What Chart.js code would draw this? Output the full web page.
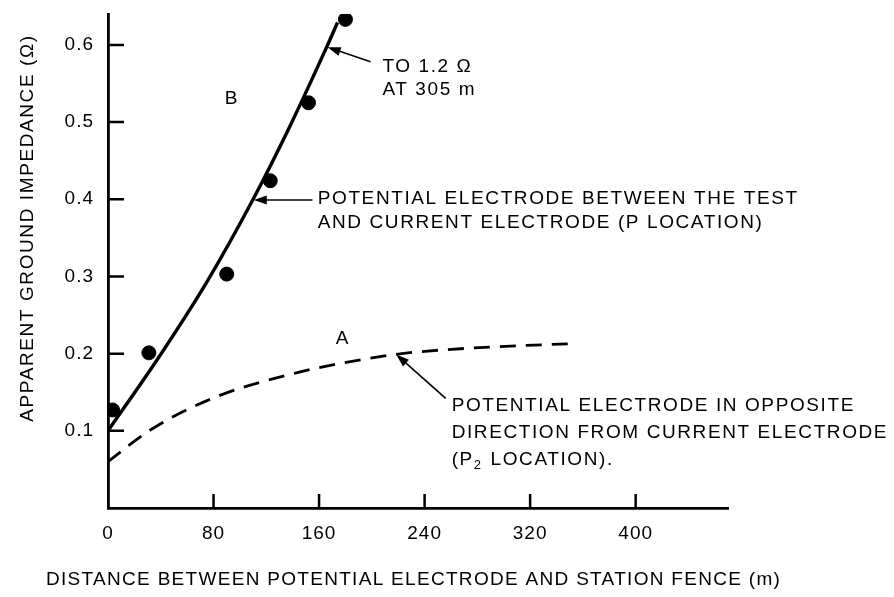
<!DOCTYPE html>
<html>
<head>
<meta charset="utf-8">
<script src="https://cdn.jsdelivr.net/npm/chart.js@4.4.1/dist/chart.umd.min.js"></script>
<style>
  html, body { margin: 0; padding: 0; background: #fff; }
</style>
</head>
<body>
<canvas id="chart" width="894" height="597"></canvas>
<script>
// Measured points (distance in m, apparent impedance in ohm)
const pointX = [3.5, 31, 90, 123, 152, 180];
const pointY = [0.127, 0.201, 0.303, 0.424, 0.525, 0.633];

// Curve B - potential electrode between test and current electrode
const curveBX = [0, 38, 75, 110, 138, 166, 174];
const curveBY = [0.100, 0.194, 0.293, 0.400, 0.495, 0.598, 0.629];

// Curve A - potential electrode in opposite direction (P2)
const curveAX = [0, 32, 82, 145, 175, 218, 240, 295, 354];
const curveAY = [0.060, 0.101, 0.144, 0.176, 0.187, 0.199, 0.203, 0.209, 0.213];

// Tick labels
const xTicks = [0, 80, 160, 240, 320, 400];
const yTicks = [0.1, 0.2, 0.3, 0.4, 0.5, 0.6];

const FONT = "'Liberation Sans', Arial, Helvetica, sans-serif";
const INK = '#000';

function toXY(xs, ys) {
    return xs.map((x, i) => ({ x: x, y: ys[i] }));
}

// Inward tick marks, the way the original axes are drawn
const inwardTicks = {
    id: 'inwardTicks',
    afterDatasetsDraw(chart) {
        const ctx = chart.ctx;
        const xs = chart.scales.x;
        const ys = chart.scales.y;
        const area = chart.chartArea;
        ctx.save();
        ctx.strokeStyle = INK;
        ctx.lineWidth = 2.5;
        ctx.beginPath();
        yTicks.forEach(v => {
            const p = ys.getPixelForValue(v);
            ctx.moveTo(area.left, p);
            ctx.lineTo(area.left + 16, p);
        });
        xTicks.forEach(v => {
            if (v === 0) return;
            const p = xs.getPixelForValue(v);
            ctx.moveTo(p, area.bottom);
            ctx.lineTo(p, area.bottom - 14);
        });
        ctx.stroke();
        ctx.restore();
    }
};

function arrow(ctx, x1, y1, x2, y2) {
    // line from (x1,y1) to tip (x2,y2) with a filled head
    const a = Math.atan2(y2 - y1, x2 - x1);
    const len = 13, half = 4.5;
    ctx.beginPath();
    ctx.moveTo(x1, y1);
    ctx.lineTo(x2 - Math.cos(a) * len * 0.8, y2 - Math.sin(a) * len * 0.8);
    ctx.stroke();
    ctx.beginPath();
    ctx.moveTo(x2, y2);
    ctx.lineTo(x2 - Math.cos(a) * len - Math.sin(a) * half, y2 - Math.sin(a) * len + Math.cos(a) * half);
    ctx.lineTo(x2 - Math.cos(a) * len + Math.sin(a) * half, y2 - Math.sin(a) * len - Math.cos(a) * half);
    ctx.closePath();
    ctx.fill();
}

// Labels, arrows and axis titles
const notes = {
    id: 'notes',
    beforeDraw(chart) {
        chart.ctx.letterSpacing = '1px';
    },
    afterDraw(chart) {
        const ctx = chart.ctx;
        const xs = chart.scales.x;
        const ys = chart.scales.y;
        const px = v => xs.getPixelForValue(v);
        const py = v => ys.getPixelForValue(v);

        ctx.save();
        ctx.fillStyle = INK;
        ctx.strokeStyle = INK;
        ctx.lineWidth = 1.6;
        ctx.textBaseline = 'middle';
        ctx.textAlign = 'left';
        ctx.font = '19px ' + FONT;
        ctx.letterSpacing = '1.6px';

        // curve letters
        ctx.textAlign = 'center';
        ctx.fillText('B', px(94), py(0.53));
        ctx.fillText('A', px(178), py(0.219));
        ctx.textAlign = 'left';

        // top note
        ctx.fillText('TO 1.2 \u03A9', px(208), py(0.572));
        ctx.fillText('AT 305 m', px(208), py(0.542));
        arrow(ctx, px(199), py(0.578), px(166.5), py(0.597));

        // curve B note
        ctx.fillText('POTENTIAL ELECTRODE BETWEEN THE TEST', px(159), py(0.401));
        ctx.fillText('AND CURRENT ELECTRODE (P LOCATION)', px(159), py(0.369));
        arrow(ctx, px(155), py(0.399), px(110.5), py(0.399));

        // curve A note
        const lx = px(260.5);
        ctx.fillText('POTENTIAL ELECTRODE IN OPPOSITE', lx, py(0.132));
        ctx.fillText('DIRECTION FROM CURRENT ELECTRODE', lx, py(0.097));
        let y3 = py(0.062);
        ctx.fillText('(P', lx, y3);
        let w = ctx.measureText('(P').width;
        ctx.font = '13px ' + FONT;
        ctx.fillText('2', lx + w, y3 + 5);
        w += ctx.measureText('2').width + 1;
        ctx.font = '19px ' + FONT;
        ctx.fillText(' LOCATION).', lx + w, y3);
        arrow(ctx, px(256), py(0.142), px(218.5), py(0.199));

        // axis titles
        ctx.font = '19px ' + FONT;
        ctx.letterSpacing = '1.3px';
        ctx.textAlign = 'left';
        ctx.fillText('DISTANCE BETWEEN POTENTIAL ELECTRODE AND STATION FENCE (m)', 46, 580);
        ctx.letterSpacing = '1.6px';
        ctx.save();
        ctx.translate(28, 228);
        ctx.rotate(-Math.PI / 2);
        ctx.textAlign = 'center';
        ctx.fillText('APPARENT GROUND IMPEDANCE (\u03A9)', 0, 0);
        ctx.restore();
        ctx.restore();
    }
};

const config = {
    type: 'scatter',
    data: {
        datasets: [{
            label: 'Measured',
            data: toXY(pointX, pointY),
            backgroundColor: INK,
            borderColor: INK,
            pointRadius: 7,
            pointHoverRadius: 7,
            showLine: false
        }, {
            label: 'B',
            data: toXY(curveBX, curveBY),
            borderColor: INK,
            borderWidth: 3.4,
            pointRadius: 0,
            showLine: true,
            cubicInterpolationMode: 'monotone'
        }, {
            label: 'A',
            data: toXY(curveAX, curveAY),
            borderColor: INK,
            borderWidth: 2.8,
            borderDash: [16, 10],
            pointRadius: 0,
            showLine: true,
            cubicInterpolationMode: 'monotone'
        }]
    },
    options: {
        responsive: false,
        devicePixelRatio: 1,
        animation: false,
        layout: {
            padding: { left: 0, top: 14, right: 166, bottom: 0 }
        },
        plugins: {
            legend: { display: false },
            tooltip: { enabled: false }
        },
        scales: {
            x: {
                type: 'linear',
                min: 0,
                max: 470,
                afterBuildTicks: scale => { scale.ticks = xTicks.map(v => ({ value: v })); },
                afterFit: scale => {
                    scale.height = 89;
                    scale.paddingLeft = 0;
                    scale.paddingRight = 0;
                },
                grid: { display: false, drawTicks: false },
                border: { display: true, color: INK, width: 2.8 },
                ticks: {
                    padding: 14,
                    color: INK,
                    font: { size: 19, family: FONT },
                    maxRotation: 0,
                    autoSkip: false
                }
            },
            y: {
                type: 'linear',
                min: 0,
                max: 0.64,
                afterBuildTicks: scale => { scale.ticks = yTicks.map(v => ({ value: v })); },
                afterFit: scale => {
                    scale.width = 108;
                    scale.paddingTop = 0;
                    scale.paddingBottom = 0;
                },
                grid: { display: false, drawTicks: false },
                border: { display: true, color: INK, width: 2.8 },
                ticks: {
                    padding: 14,
                    color: INK,
                    font: { size: 19, family: FONT },
                    callback: v => v.toFixed(1)
                }
            }
        }
    },
    plugins: [inwardTicks, notes]
};

new Chart(document.getElementById('chart'), config);
</script>
</body>
</html>
